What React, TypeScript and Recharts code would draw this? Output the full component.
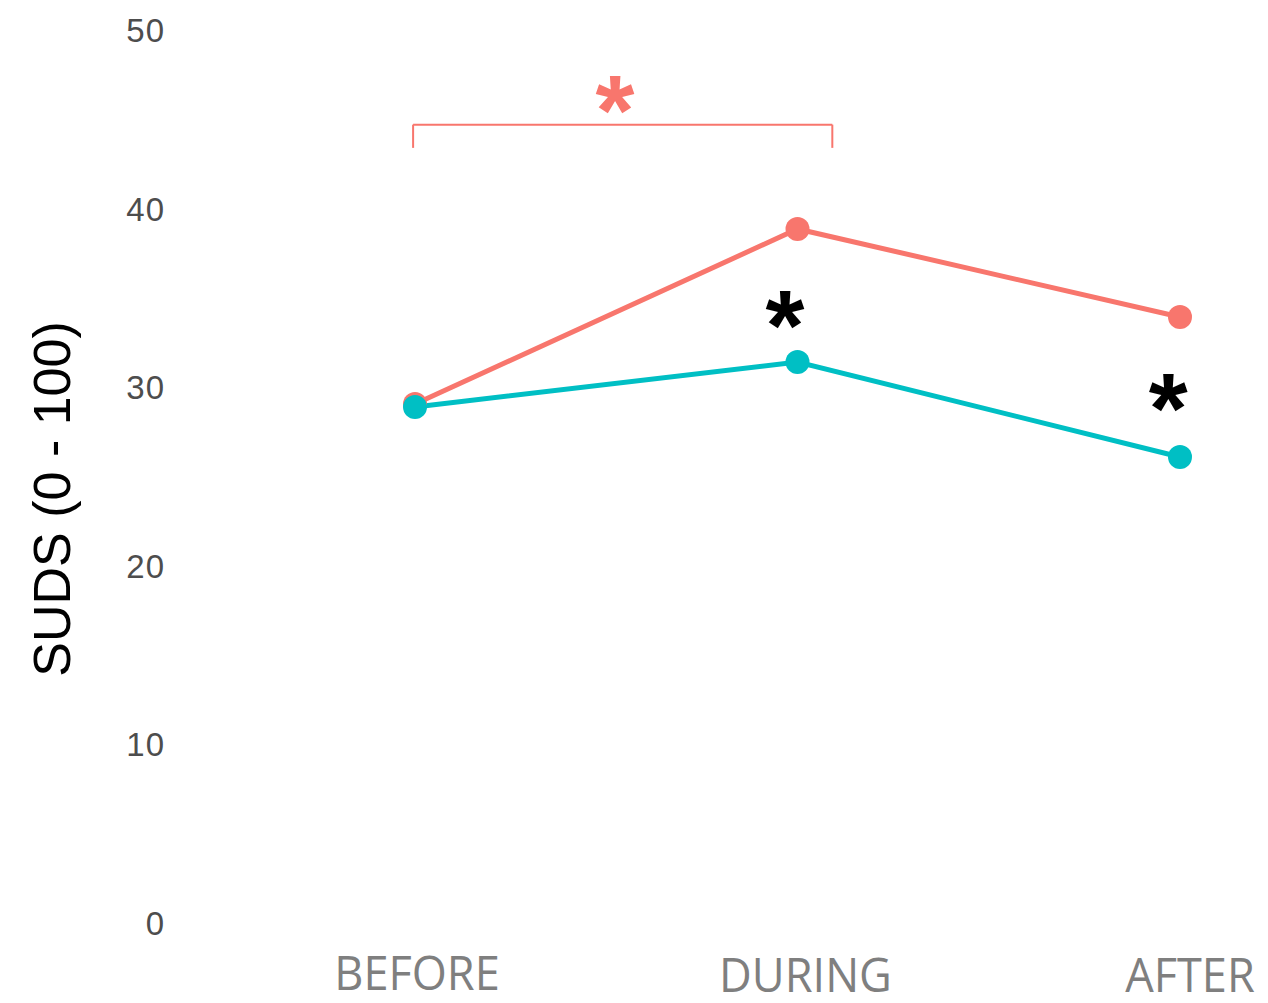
import React from 'react';
import { LineChart, Line, XAxis, YAxis, ReferenceLine, ReferenceDot } from 'recharts';

const categories = ['BEFORE', 'DURING', 'AFTER'];
const seriesRed = [29.06, 38.86, 33.93];
const seriesTeal = [28.89, 31.41, 26.09];
const yTicks = [0, 10, 20, 30, 40, 50];

const RED = '#F8766D';
const TEAL = '#00BFC4';

const data = categories.map((c, i) => ({ x: i, name: c, red: seriesRed[i], teal: seriesTeal[i] }));

const XTick = (props: any) => {
  const { x, y, payload } = props;
  const nudge = [2, 8, 10][payload.value] ?? 0;
  const dyv = [59, 61, 61][payload.value] ?? 59;
  return (
    <text x={x + nudge} y={y + dyv} textAnchor="middle" fill="#7f7f7f"
      style={{ fontFamily: 'Open Sans', fontSize: 47 }} transform={`translate(${x + nudge} 0) scale(0.96 1) translate(${-(x + nudge)} 0)`}>
      {categories[payload.value]}
    </text>
  );
};

const YTick = (props: any) => {
  const { x, y, payload } = props;
  return (
    <text x={x - 2} y={y + 12} textAnchor="end" fill="#4d4d4d"
      style={{ fontFamily: 'Liberation Sans', fontSize: 33, letterSpacing: 1 }}>
      {payload.value}
    </text>
  );
};

const Star = (color: string) => (props: any) => {
  const { cx, cy } = props;
  return (
    <text x={cx} y={cy + 52} textAnchor="middle" fill={color}
      style={{ fontFamily: 'Liberation Sans', fontWeight: 'bold', fontSize: 100 }}>*</text>
  );
};

const YLabel = () => (
  <text x={70} y={499} textAnchor="middle" fill="#000" transform="rotate(-90 70 499)"
    style={{ fontFamily: 'Liberation Sans', fontSize: 52 }}>SUDS (0 - 100)</text>
);

export default function App() {
  return (
    <div style={{ position: 'absolute', left: 0, top: 0, background: '#fff' }}>
      <LineChart width={1268} height={1003} data={data} margin={{ top: 30, right: 88, bottom: 0, left: 0 }}>
        <XAxis type="number" dataKey="x" domain={[-0.6275, 2]} ticks={[0, 1, 2]}
          axisLine={false} tickLine={false} height={80} tick={<XTick />} interval={0} />
        <YAxis domain={[0, 50]} ticks={yTicks} width={175} axisLine={false} tickLine={false}
          tick={<YTick />} label={<YLabel />} />
        <ReferenceLine segment={[{ x: -0.005, y: 43.4 }, { x: -0.005, y: 44.7 }]} stroke={RED} strokeWidth={2} />
        <ReferenceLine segment={[{ x: -0.005, y: 44.7 }, { x: 1.091, y: 44.7 }]} stroke={RED} strokeWidth={2} />
        <ReferenceLine segment={[{ x: 1.091, y: 44.7 }, { x: 1.091, y: 43.4 }]} stroke={RED} strokeWidth={2} />
        <ReferenceDot x={0.523} y={46.5} r={0} shape={Star(RED)} />
        <ReferenceDot x={0.967} y={34.43} r={0} shape={Star('#000')} />
        <ReferenceDot x={1.969} y={29.8} r={0} shape={Star('#000')} />
        <Line dataKey="red" stroke={RED} strokeWidth={5} isAnimationActive={false}
          dot={{ r: 12, fill: RED, stroke: 'none' }} activeDot={false} />
        <Line dataKey="teal" stroke={TEAL} strokeWidth={5} isAnimationActive={false}
          dot={{ r: 12, fill: TEAL, stroke: 'none' }} activeDot={false} />
      </LineChart>
    </div>
  );
}
